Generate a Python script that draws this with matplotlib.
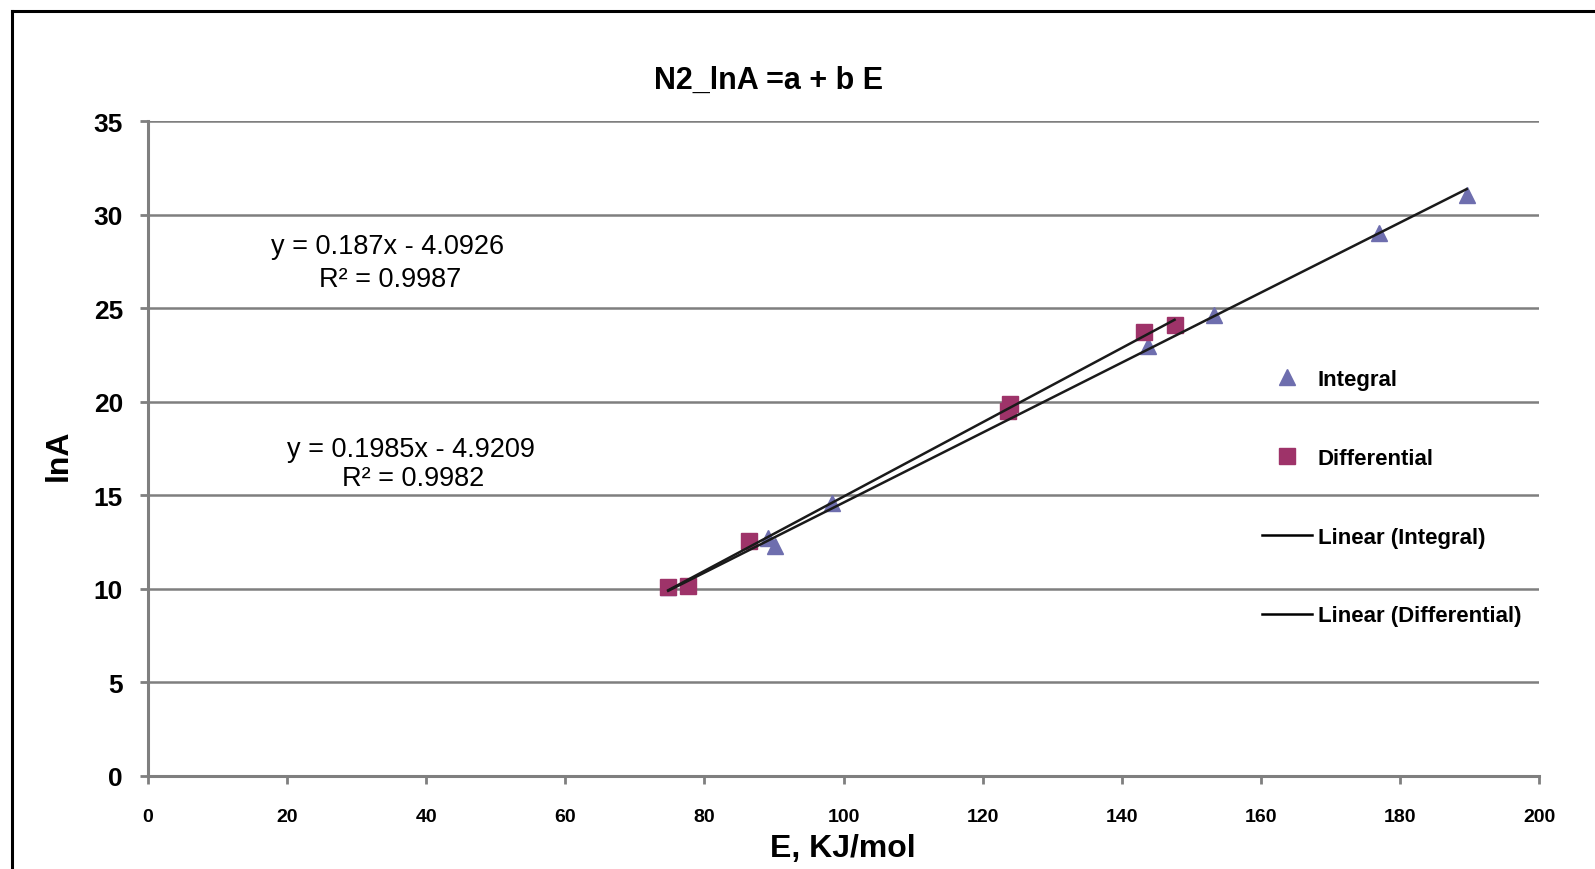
import matplotlib
matplotlib.use("Agg")
import matplotlib.pyplot as plt
from matplotlib.lines import Line2D
import numpy as np

plt.rcParams['font.family'] = ['Liberation Sans', 'DejaVu Sans']

# Data
integral_E = [74.8, 89.2, 90.2, 98.4, 143.8, 153.3, 177.0, 189.6]
integral_lnA = [10.1, 12.7, 12.3, 14.6, 23.0, 24.66, 29.0, 31.05]
diff_E = [74.8, 77.7, 86.4, 123.7, 123.9, 143.2, 147.6]
diff_lnA = [10.1, 10.16, 12.55, 19.5, 19.88, 23.74, 24.1]

fit_integral = (0.187, -4.0926, 0.9987)
fit_diff = (0.1985, -4.9209, 0.9982)

xticks = list(range(0, 201, 20))
yticks = list(range(0, 36, 5))

fig = plt.figure(figsize=(15.95, 8.7), dpi=100)
ax = fig.add_axes([148/1595, 1 - 777/870, (1539-148)/1595, (777-122)/870])

grid_c = '#7f7f7f'
ax.set_xlim(0, 200)
ax.set_ylim(0, 35)
ax.set_xticks(xticks)
ax.set_yticks(yticks)
for y in yticks[1:]:
    ax.axhline(y, color=grid_c, lw=1.8, zorder=1)
for s in ['top', 'right']:
    ax.spines[s].set_visible(False)
for s in ['left', 'bottom']:
    ax.spines[s].set_color(grid_c)
    ax.spines[s].set_linewidth(2.2)
ax.tick_params(axis='x', direction='out', length=6, width=2, color=grid_c,
               pad=17, labelsize=14)
ax.tick_params(axis='y', direction='out', length=6, width=2, color=grid_c,
               pad=12, labelsize=19)
for lab in ax.get_xticklabels() + ax.get_yticklabels():
    lab.set_fontweight('bold')

tri_c = '#6E6EAE'
sq_c = '#9E3369'
ax.plot(integral_E, integral_lnA, linestyle='none', marker='^', ms=11,
        color=tri_c, mec=tri_c, zorder=3, clip_on=False)
ax.plot(diff_E, diff_lnA, linestyle='none', marker='s', ms=11.5,
        color=sq_c, mec=sq_c, zorder=3, clip_on=False)

xi = np.array([min(integral_E), max(integral_E)])
ax.plot(xi, fit_integral[0]*xi + fit_integral[1], color='#1a1a1a', lw=1.8, zorder=4)
xd = np.array([min(diff_E), max(diff_E)])
ax.plot(xd, fit_diff[0]*xd + fit_diff[1], color='#1a1a1a', lw=1.8, zorder=4)

def fx(px):
    return px / 1595
def fy(py):
    return 1 - py / 870

fig.text(fx(769), fy(81), 'N2_lnA =a + b E', fontsize=22, fontweight='bold',
         ha='center', va='center')
fig.text(fx(843), fy(849), 'E, KJ/mol', fontsize=23, fontweight='bold',
         ha='center', va='center')
fig.text(fx(59), fy(455), 'lnA', fontsize=23, fontweight='bold',
         ha='center', va='center', rotation=90)

fig.text(fx(388), fy(247), 'y = %.3fx - %.4f' % (fit_integral[0], -fit_integral[1]),
         fontsize=19.5, ha='center', va='center')
fig.text(fx(390), fy(280), 'R² = %.4f' % fit_integral[2],
         fontsize=19.5, ha='center', va='center')
fig.text(fx(411), fy(450), 'y = %.4fx - %.4f' % (fit_diff[0], -fit_diff[1]),
         fontsize=19.5, ha='center', va='center')
fig.text(fx(413), fy(479), 'R² = %.4f' % fit_diff[2],
         fontsize=19.5, ha='center', va='center')

handles = [
    Line2D([], [], linestyle='none', marker='^', ms=11, color=tri_c),
    Line2D([], [], linestyle='none', marker='s', ms=11.5, color=sq_c),
    Line2D([], [], color='black', lw=1.8),
    Line2D([], [], color='black', lw=1.8),
]
labels = ['Integral', 'Differential', 'Linear (Integral)', 'Linear (Differential)']
leg = fig.legend(handles, labels, loc='upper left',
                 bbox_to_anchor=(fx(1262), fy(370)), frameon=False,
                 prop={'weight': 'bold', 'size': 16}, borderpad=0,
                 borderaxespad=0, labelspacing=2.6, handlelength=2.25,
                 handletextpad=0.25)

# figure border
fig.add_artist(Line2D([fx(12), fx(12)], [fy(12), 0], color='black', lw=2.2,
                      transform=fig.transFigure))
fig.add_artist(Line2D([fx(12), 1], [fy(12), fy(12)], color='black', lw=2.2,
                      transform=fig.transFigure))

fig.savefig('out.png', dpi=100)
